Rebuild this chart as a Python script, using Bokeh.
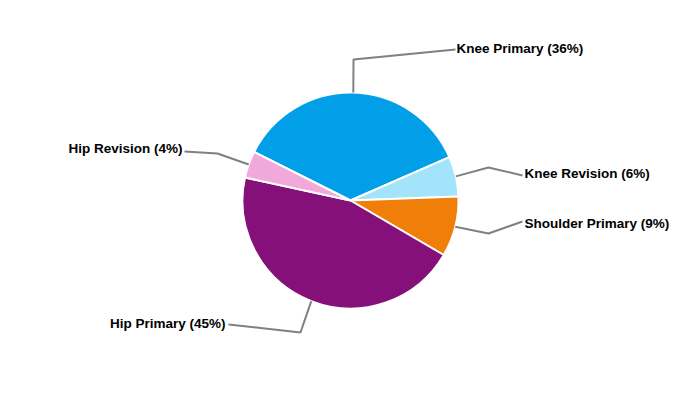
import math
from bokeh.plotting import figure
from bokeh.models import Range1d
from bokeh.core.properties import value
from bokeh.embed import file_html
from bokeh.resources import INLINE

# ---- data ----
categories = ["Knee Primary", "Knee Revision", "Shoulder Primary", "Hip Primary", "Hip Revision"]
shares = [36, 6, 9, 45, 4]
colors = ["#009FE8", "#A3E4FA", "#F07F0A", "#85107A", "#F0A9DA"]

# ---- layout (reference pixel coordinates, y downward) ----
CX, CY, R = 350, 200, 108
START_DEG = 153.3  # where first slice begins, going clockwise
elbows = [(353, 59), (488, 167), (488, 233), (300, 332), (217, 153)]
line_ends = [(455, 49), (522, 175), (522, 221), (228, 324), (184, 151)]
label_pos = [(456, 48), (524, 173), (524, 223), (225, 323), (182, 148)]
label_align = ["left", "left", "left", "right", "right"]

W, H = 684, 384
p = figure(width=W, height=H, output_backend="svg", toolbar_location=None,
           x_range=Range1d(0, W), y_range=Range1d(400 - H, 400),
           min_border=0)
p.axis.visible = False
p.grid.visible = False
p.outline_line_color = None
p.background_fill_color = "white"
p.border_fill_color = "white"

def fy(y):
    return 400 - y

total = sum(shares)
cum = 0
starts, ends, mids = [], [], []
for s in shares:
    a0 = math.radians(START_DEG - cum / total * 360)
    cum += s
    a1 = math.radians(START_DEG - cum / total * 360)
    starts.append(a0)
    ends.append(a1)
    mids.append((a0 + a1) / 2)

p.wedge(x=[CX] * len(shares), y=[fy(CY)] * len(shares), radius=R,
        start_angle=starts, end_angle=ends, direction="clock",
        fill_color=colors, line_color="white", line_width=2)

for i, cat in enumerate(categories):
    m = mids[i]
    x0 = CX + R * math.cos(m)
    y0 = fy(CY) + R * math.sin(m)
    ex, ey = elbows[i]
    lx, ly = line_ends[i]
    p.line([x0, ex, lx], [y0, fy(ey), fy(ly)], line_color="#808080", line_width=2)
    tx, ty = label_pos[i]
    p.text(x=[tx], y=[fy(ty)], text=[f"{cat} ({shares[i]}%)"],
           text_font=value("Liberation Sans"), text_font_style="bold",
           text_font_size="13.5px", text_color="#000000",
           text_align=label_align[i], text_baseline="middle")

open("out.html", "w").write(file_html(p, INLINE))
